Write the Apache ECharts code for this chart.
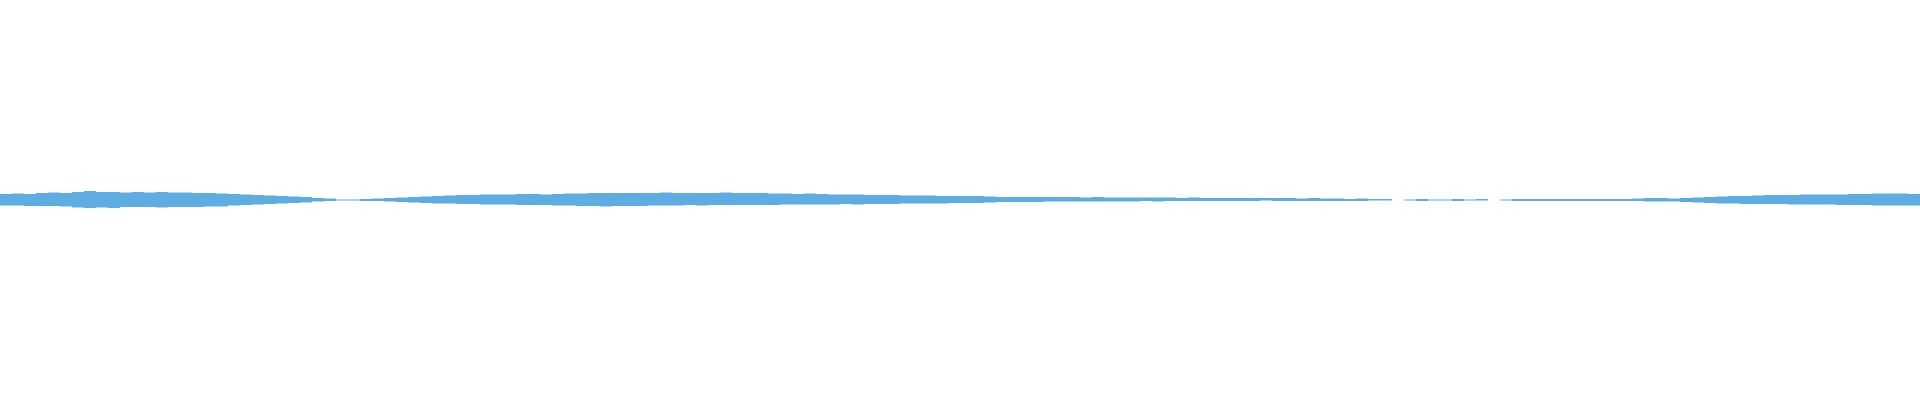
<!DOCTYPE html>
<html>
<head>
<meta charset="utf-8">
<script src="https://cdn.jsdelivr.net/npm/echarts@6/dist/echarts.min.js"></script>
<style>
html,body{margin:0;padding:0;background:#fff;}
#chart{width:1920px;height:400px;}
</style>
</head>
<body>
<div id="chart"></div>
<script>
// Waveform envelope (amplitude units, full scale ±200)
const upperPeaks = [
6,6.5,6,7,7.5,7,8,9,8,8,7.5,8,7.5,8,7.5,7.5,7,7,6.5,6,
5.5,5,4.5,4,3.5,3,2,1.5,0.5,0.5,1,1.5,2,2.5,3,3.5,4,4.5,5,5,
5.5,5.5,5.5,6,6,5.5,6,6.5,6.5,7,7,7,7,7,7,7.5,7,7,7,7,
7.5,7,7,7,6.5,6.5,6,6.5,6,5.5,5.5,5.5,5,5,5,4.5,4.5,4.5,4,4,
4,4,3.5,3,3,3,3,3,3,3,2.5,3,2.5,2.5,2.5,2.5,2.5,2.5,2,2.5,
2,2,2,2,2,2,2,2,1.5,2,1.5,1.5,1,1.5,1,1,0,0.5,1,0.5,
0.5,1,0.5,1,0,0.5,1,1,1,1,1,1,1,1,1,1,1.5,2,2,1.5,
2,2.5,3,3.5,4,4,4.5,5,5,5,5.5,5.5,5.5,5.5,6,6,6.5,6.5,6.5,6
];
const lowerPeaks = [
-5.5,-5.5,-6,-6,-6,-6.5,-7.5,-8,-7.5,-8,-7,-7,-7,-7.5,-7,-7,-7,-6.5,-6.5,-5.5,
-5,-4.5,-4,-3.5,-3,-2.5,-1.5,-1,-0.5,-0.5,-1,-1,-1.5,-2,-2.5,-3,-3.5,-3.5,-4,-4,
-4.5,-4.5,-4.5,-5,-5,-5,-5.5,-5.5,-6,-6,-6.5,-6,-6,-6,-5.5,-5.5,-5.5,-5,-5.5,-5,
-5,-5,-5,-5,-5,-4.5,-4.5,-4.5,-4.5,-4.5,-4,-4.5,-4,-4,-4,-3.5,-3.5,-3.5,-3.5,-3,
-3,-3,-2.5,-2,-2,-2,-2,-1.5,-1.5,-1.5,-1.5,-1.5,-1.5,-1.5,-1.5,-1,-1.5,-1,-1,-1,
-1,-1,-1,-1,-1,-0.5,-1,-1,-1,-1,-1,-1,-1,-1,-0.5,-0.5,0,-0.5,-1,-0.5,
-0.5,-1,-0.5,-0.5,0,-0.5,-1,-1,-1,-1,-1,-1,-1,-1,-1,-1,-1,-1.5,-1.5,-1.5,
-2,-2.5,-3,-3.5,-3.5,-4,-4,-4,-4,-4.5,-4.5,-4.5,-4.5,-5,-5,-5,-5.5,-5.5,-5.5,-5.5
];
const sampleIndex = upperPeaks.map((_, i) => i);

const chart = echarts.init(document.getElementById('chart'));
chart.setOption({
  animation: false,
  backgroundColor: '#ffffff',
  grid: { left: 0, right: 0, top: 0, bottom: 0 },
  xAxis: { type: 'category', data: sampleIndex, show: false, boundaryGap: true },
  yAxis: { type: 'value', min: -200, max: 200, show: false },
  series: [
    { type: 'bar', data: upperPeaks, barCategoryGap: 0, barGap: '-100%',
      itemStyle: { color: '#5dade2' }, silent: true },
    { type: 'bar', data: lowerPeaks, barCategoryGap: 0, barGap: '-100%',
      itemStyle: { color: '#5dade2' }, silent: true }
  ]
});
</script>
</body>
</html>
